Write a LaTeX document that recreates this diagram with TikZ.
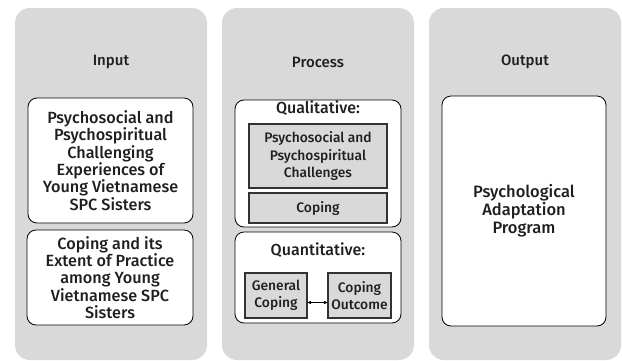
\documentclass[tikz,border=0pt]{standalone}
\usepackage{fontspec}
\setmainfont{Fira Sans}[UprightFont={* Medium}]
\usetikzlibrary{arrows,positioning}
\definecolor{panelgray}{HTML}{D9D9D9}
\definecolor{inkgray}{HTML}{1F1F1F}
\tikzset{panel/.style={rectangle,rounded corners=15pt,fill=panelgray,minimum width=192pt,minimum height=352pt,inner sep=0pt},
}

\begin{document}
\begin{tikzpicture}[x=1pt,y=-1pt,>=stealth',thin,
		every node/.style={text=inkgray,align=center},
		title/.style={font=\fontsize{15}{18}\selectfont},
		white box/.style={rectangle,rounded corners=9pt,fill=white,draw=black,line width=0.8pt,inner sep=2pt,font=\fontsize{16.2}{17.4}\selectfont},
		grey box/.style={rectangle,fill=panelgray,draw=black!80,line width=1.2pt,inner sep=1pt,font=\fontsize{13.8}{17.5}\selectfont}]
		
		\useasboundingbox (0,0) rectangle (622,360);
		
		\node[panel] (input) at (111,184) {};
		\node[panel] (process) at (318,184) {};
		\node[panel] (output) at (525,184) {};
		
		\node[title] (inputlbl) at (111,62) {Input};
		\node[title] (processlbl) at (318,62) {Process};
		\node[title] (outputlbl) at (525,62) {Output};
		
		% input column
		\node[white box,minimum width=165pt,minimum height=125pt] (challenges) at (110.5,160.5) {Psychosocial and\\Psychospiritual\\Challenging\\Experiences of\\Young Vietnamese\\SPC Sisters};
		\node[white box,minimum width=166pt,minimum height=95pt] (copingin) at (110,277.5) {Coping and its\\Extent of Practice\\among Young\\Vietnamese SPC\\Sisters};
		
		% process column
		\node[white box,minimum width=166pt,minimum height=127pt] (quali) at (318,163.5) {};
		\node[title,font=\fontsize{16}{18}\selectfont] (qualilbl) at (318,108) {Qualitative:};
		\node[grey box,minimum width=138pt,minimum height=64pt] (psychch) at (318,156) {Psychosocial and\\Psychospiritual\\Challenges};
		\node[grey box,minimum width=138pt,minimum height=30pt] (copingq) at (318,208) {Coping};
		
		\node[white box,minimum width=166pt,minimum height=91pt] (quanti) at (318,277.5) {};
		\node[title,font=\fontsize{16}{18}\selectfont] (quantilbl) at (318,250) {Quantitative:};
		\node[grey box,minimum width=62pt,minimum height=45pt] (general) at (276,295.5) {General\\Coping};
		\node[grey box,minimum width=63pt,minimum height=45pt] (outcome) at (359.5,295.5) {Coping\\Outcome};
		
		\path[<->] ([yshift=-7pt]general.east) edge ([yshift=-7pt]outcome.west);
		
		% output column
		\node[white box,minimum width=164pt,minimum height=230pt,font=\fontsize{16.5}{18}\selectfont] (program) at (524,211) {Psychological\\Adaptation\\Program};
		\end{tikzpicture}
\end{document}
